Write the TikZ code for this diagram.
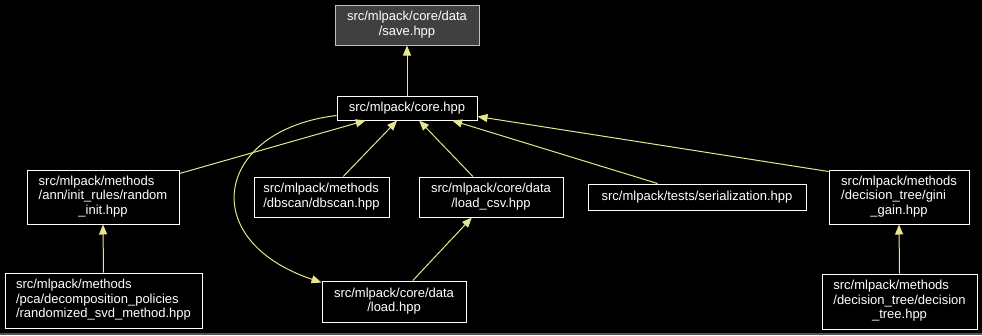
\documentclass[tikz,border=0pt]{standalone}
\usepackage{fontspec}
\setmainfont{Liberation Sans}
\usetikzlibrary{arrows.meta,calc}

\definecolor{edgecol}{HTML}{E6E68F}
\definecolor{curfill}{HTML}{404040}
\definecolor{curline}{HTML}{BFBFBF}
\definecolor{rulegrey}{HTML}{555555}

% label lines: all but the last left-aligned, the last one centred
\newcommand{\twolbl}[2]{\begin{tabular}{@{}l@{}}#1\\\multicolumn{1}{@{}c@{}}{#2}\end{tabular}}
\newcommand{\threelbl}[3]{\begin{tabular}{@{}l@{}}#1\\#2\\\multicolumn{1}{@{}c@{}}{#3}\end{tabular}}

\tikzset{
  filebox/.style={draw=white, line width=1pt, fill=black, text=white,
    inner sep=0pt, font=\fontsize{13}{14.5}\selectfont},
  curbox/.style={filebox, draw=curline, fill=curfill},
  dep/.style={draw=edgecol, line width=1pt, -{Triangle[length=10pt,width=8pt]}},
}

\begin{document}
\begin{tikzpicture}[x=1pt,y=-1pt]
  \useasboundingbox (0,0) rectangle (982,335);
  \fill[black] (0,0) rectangle (982,335);
  \fill[rulegrey] (0,333) rectangle (982,335);

  % files
  \node[curbox, minimum width=144pt, minimum height=40pt] (save) at (407,25)
    {\twolbl{src/mlpack/core/data}{/save.hpp}};
  \node[filebox, minimum width=140pt, minimum height=24pt] (core) at (407,108)
    {src/mlpack/core.hpp};
  \node[filebox, minimum width=152pt, minimum height=54pt] (rinit) at (103,197)
    {\threelbl{src/mlpack/methods}{/ann/init\_rules/random}{\_init.hpp}};
  \node[filebox, minimum width=197pt, minimum height=55pt] (rsvd) at (103.5,300.5)
    {\threelbl{src/mlpack/methods}{/pca/decomposition\_policies}{/randomized\_svd\_method.hpp}};
  \node[filebox, minimum width=135pt, minimum height=40pt] (dbscan) at (321.5,197)
    {\twolbl{src/mlpack/methods}{/dbscan/dbscan.hpp}};
  \node[filebox, minimum width=144pt, minimum height=41pt] (load) at (394,301.5)
    {\twolbl{src/mlpack/core/data}{/load.hpp}};
  \node[filebox, minimum width=144pt, minimum height=40pt] (loadcsv) at (491,197)
    {\twolbl{src/mlpack/core/data}{/load\_csv.hpp}};
  \node[filebox, minimum width=218pt, minimum height=26pt] (serial) at (697,197)
    {src/mlpack/tests/serialization.hpp};
  \node[filebox, minimum width=140pt, minimum height=54pt] (gini) at (899,197)
    {\threelbl{src/mlpack/methods}{/decision\_tree/gini}{\_gain.hpp}};
  \node[filebox, minimum width=155pt, minimum height=55pt] (dtree) at (899.5,301.5)
    {\threelbl{src/mlpack/methods}{/decision\_tree/decision}{\_tree.hpp}};

  % include relations
  \draw[dep] (core.north) -- (save.south);
  \draw[dep] ($(rinit.north east)+(0,4)$) -- ($(core.south west)!0.207!(core.south east)$);
  \draw[dep] ($(dbscan.north west)!0.66!(dbscan.north east)$) -- ($(core.south west)!0.43!(core.south east)$);
  \draw[dep] ($(loadcsv.north west)!0.375!(loadcsv.north east)$) -- ($(core.south west)!0.586!(core.south east)$);
  \draw[dep] ($(serial.north west)!0.32!(serial.north east)$) -- ($(core.south west)!0.82!(core.south east)$);
  \draw[dep] ($(gini.north west)+(0,2)$) -- ($(core.south east)+(0,-4)$);
  \draw[dep] ($(core.south west)+(0,-5)$) .. controls (215,130) and (195,240) .. ($(load.north west)+(0,2)$);
  \draw[dep] ($(load.north west)!0.63!(load.north east)$) -- ($(loadcsv.south west)!0.368!(loadcsv.south east)$);
  \draw[dep] (rsvd.north) -- (rinit.south);
  \draw[dep] (dtree.north) -- (gini.south);
\end{tikzpicture}
\end{document}
